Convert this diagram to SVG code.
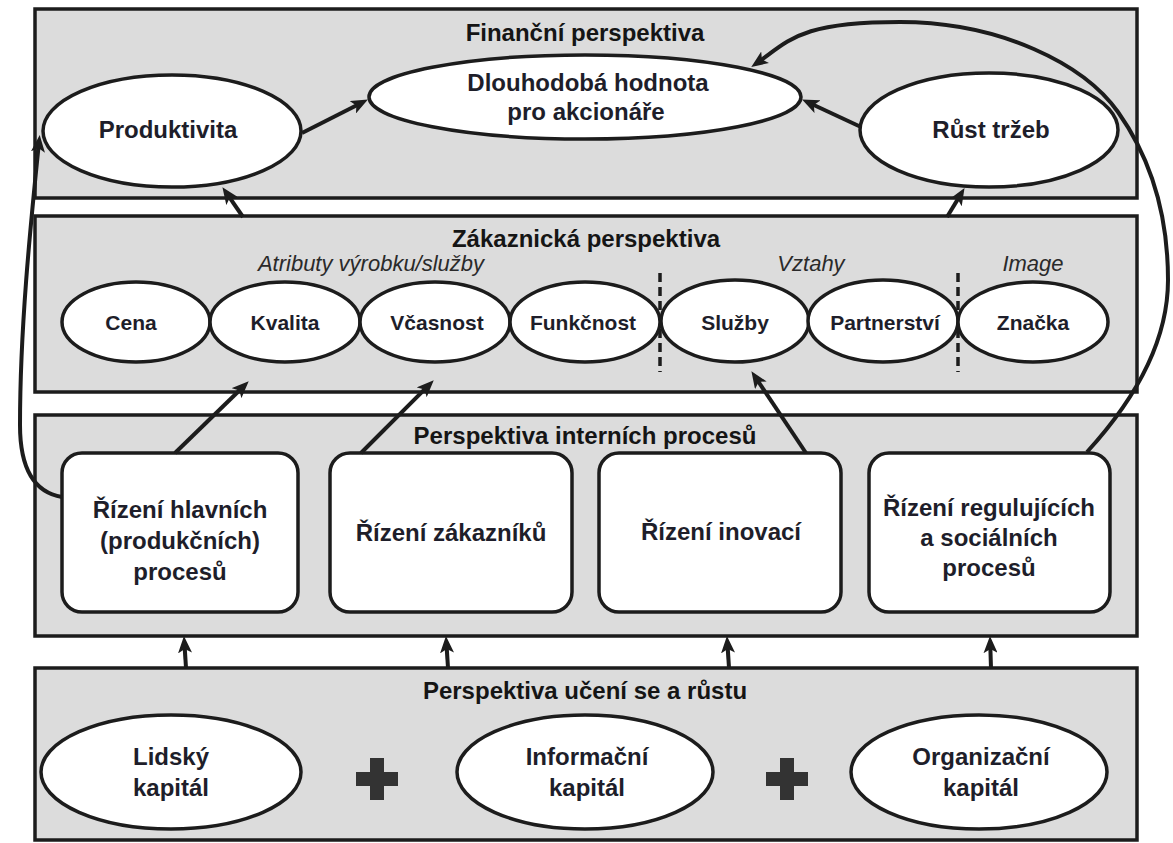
<svg xmlns="http://www.w3.org/2000/svg" width="1173" height="843" viewBox="0 0 1173 843">
  <defs>
    <marker id="arrow" markerUnits="userSpaceOnUse" viewBox="0 0 17 14" markerWidth="17" markerHeight="14" refX="10" refY="7" orient="auto">
      <path d="M0,0 L17,7 L0,14 L4,7 z" fill="#1c1c1c"/>
    </marker>
  </defs>
  <style>
    .panel { fill: #dcdcdc; stroke: #1c1c1c; stroke-width: 3.5; }
    .oval { fill: #ffffff; stroke: #1c1c1c; stroke-width: 3.5; }
    .box { fill: #ffffff; stroke: #1c1c1c; stroke-width: 3.5; }
    .title { font-family: "Liberation Sans", Arial, sans-serif; font-weight: bold; font-size: 24px; fill: #151515; text-anchor: middle; }
    .sub { font-family: "Liberation Sans", Arial, sans-serif; font-style: italic; font-size: 22px; fill: #2a2a2a; text-anchor: middle; }
    .big { font-family: "Liberation Sans", Arial, sans-serif; font-weight: bold; font-size: 24px; fill: #1e1e2a; text-anchor: middle; }
    .small { font-family: "Liberation Sans", Arial, sans-serif; font-weight: bold; font-size: 21px; fill: #1e1e2a; text-anchor: middle; }
    .sep { stroke: #1c1c1c; stroke-width: 3.5; stroke-dasharray: 9 5; fill: none; }
    .plus { fill: #333333; }
    .link { fill: none; stroke: #1c1c1c; stroke-width: 4; marker-end: url(#arrow); }
  </style>

  <rect width="1173" height="843" fill="#ffffff"/>

  <!-- Financial perspective -->
  <g id="panel-financni">
    <rect class="panel" x="35" y="9" width="1102" height="189"/>
    <text class="title" x="585" y="41">Finanční perspektiva</text>
  </g>
  <g id="node-produktivita">
    <ellipse class="oval" cx="172" cy="131" rx="129" ry="56"/>
    <text class="big" x="168" y="138">Produktivita</text>
  </g>
  <g id="node-hodnota">
    <ellipse class="oval" cx="585" cy="97" rx="216" ry="42"/>
    <text class="big" x="588" y="91">Dlouhodobá hodnota</text>
    <text class="big" x="586" y="120">pro akcionáře</text>
  </g>
  <g id="node-rust">
    <ellipse class="oval" cx="989" cy="130" rx="129" ry="57"/>
    <text class="big" x="991" y="138">Růst tržeb</text>
  </g>

  <!-- Customer perspective -->
  <g id="panel-zakaznicka">
    <rect class="panel" x="35" y="216" width="1102" height="176"/>
    <text class="title" x="586" y="247">Zákaznická perspektiva</text>
    <text class="sub" x="371" y="271">Atributy výrobku/služby</text>
    <text class="sub" x="811" y="271">Vztahy</text>
    <text class="sub" x="1033" y="271">Image</text>
    <line class="sep" x1="660" y1="273" x2="660" y2="372"/>
    <line class="sep" x1="958" y1="273" x2="958" y2="372"/>
  </g>
  <g id="node-cena">
    <ellipse class="oval" cx="136" cy="322" rx="74" ry="40"/>
    <text class="small" x="131" y="330">Cena</text>
  </g>
  <g id="node-kvalita">
    <ellipse class="oval" cx="285" cy="322" rx="75" ry="40"/>
    <text class="small" x="285" y="330">Kvalita</text>
  </g>
  <g id="node-vcasnost">
    <ellipse class="oval" cx="435" cy="322" rx="75" ry="40"/>
    <text class="small" x="437" y="330">Včasnost</text>
  </g>
  <g id="node-funkcnost">
    <ellipse class="oval" cx="585" cy="322" rx="75" ry="40"/>
    <text class="small" x="583" y="330">Funkčnost</text>
  </g>
  <g id="node-sluzby">
    <ellipse class="oval" cx="735" cy="321" rx="74" ry="41"/>
    <text class="small" x="735" y="330">Služby</text>
  </g>
  <g id="node-partnerstvi">
    <ellipse class="oval" cx="883" cy="321" rx="75" ry="41"/>
    <text class="small" x="885" y="330">Partnerství</text>
  </g>
  <g id="node-znacka">
    <ellipse class="oval" cx="1033" cy="322" rx="75" ry="40"/>
    <text class="small" x="1033" y="330">Značka</text>
  </g>

  <!-- Internal process perspective -->
  <g id="panel-interni">
    <rect class="panel" x="35" y="415" width="1102" height="221"/>
    <text class="title" x="585" y="444">Perspektiva interních procesů</text>
  </g>
  <g id="node-hlavni">
    <rect class="box" x="62" y="453" width="236" height="159" rx="20"/>
    <text class="big" x="180" y="518">Řízení hlavních</text>
    <text class="big" x="180" y="549">(produkčních)</text>
    <text class="big" x="180" y="580">procesů</text>
  </g>
  <g id="node-zakaznici">
    <rect class="box" x="330" y="453" width="242" height="159" rx="20"/>
    <text class="big" x="451" y="541">Řízení zákazníků</text>
  </g>
  <g id="node-inovace">
    <rect class="box" x="599" y="453" width="242" height="159" rx="20"/>
    <text class="big" x="721" y="540">Řízení inovací</text>
  </g>
  <g id="node-regulace">
    <rect class="box" x="869" y="453" width="241" height="159" rx="20"/>
    <text class="big" x="989" y="516">Řízení regulujících</text>
    <text class="big" x="989" y="546">a sociálních</text>
    <text class="big" x="989" y="576">procesů</text>
  </g>

  <!-- Learning and growth perspective -->
  <g id="panel-uceni">
    <rect class="panel" x="35" y="668" width="1102" height="172"/>
    <text class="title" x="585" y="699">Perspektiva učení se a růstu</text>
    <path class="plus" d="M370,758 h14 v14 h14 v14 h-14 v14 h-14 v-14 h-14 v-14 h14 z"/>
    <path class="plus" d="M780,758 h14 v14 h14 v14 h-14 v14 h-14 v-14 h-14 v-14 h14 z"/>
  </g>
  <g id="node-lidsky">
    <ellipse class="oval" cx="171" cy="772" rx="130" ry="57"/>
    <text class="big" x="171" y="765">Lidský</text>
    <text class="big" x="171" y="796">kapitál</text>
  </g>
  <g id="node-informacni">
    <ellipse class="oval" cx="585" cy="772" rx="128" ry="57"/>
    <text class="big" x="587" y="765">Informační</text>
    <text class="big" x="587" y="796">kapitál</text>
  </g>
  <g id="node-organizacni">
    <ellipse class="oval" cx="979" cy="772" rx="128" ry="57"/>
    <text class="big" x="981" y="765">Organizační</text>
    <text class="big" x="981" y="796">kapitál</text>
  </g>

  <!-- Cause-and-effect links -->
  <g id="connectors">
    <path class="link" d="M302,133 L361.7,102.7"/>
    <path class="link" d="M861,127 L808.4,102.5"/>
    <path class="link" d="M243,217 L226.4,192.9"/>
    <path class="link" d="M947,217 L960.9,194.1"/>
    <path class="link" d="M175,453 L243.7,386.2"/>
    <path class="link" d="M361,453 L428.8,385.2"/>
    <path class="link" d="M806,453 L755.3,377"/>
    <path class="link" d="M1087,452 C1130,405 1168,345 1168,280 S1152,160 1118,112 S1000,22 900,22 S790,40 757,63"/>
    <path class="link" d="M62,497 C32,492 20,465 20,425 C20,330 30,230 39,142"/>
    <path class="link" d="M186,668 L184.4,643"/>
    <path class="link" d="M448,668 L446.4,643"/>
    <path class="link" d="M729,668 L727.4,643"/>
    <path class="link" d="M991,668 L990.2,643"/>
  </g>
</svg>
